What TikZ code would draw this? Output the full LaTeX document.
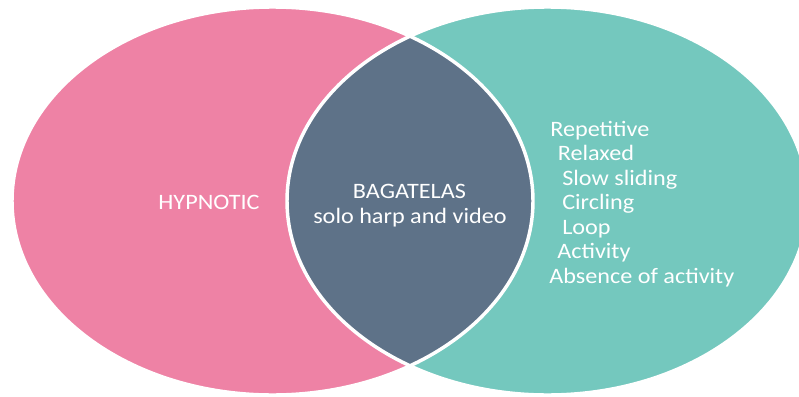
\documentclass[tikz,border=0pt]{standalone}
\usepackage{fontspec}
\setmainfont[FakeStretch=1.1]{Carlito}
\definecolor{vpink}{RGB}{238,130,165}
\definecolor{vteal}{RGB}{116,200,190}
\definecolor{vslate}{RGB}{94,114,136}
\begin{document}
\begin{tikzpicture}[x=0.75pt,y=-0.75pt,
  lbl/.style={text=white,inner sep=0pt,font=\fontsize{16.5pt}{18pt}\selectfont},
  lw/.style={lbl,anchor=base west},
  lc/.style={lbl,anchor=base}]
\useasboundingbox (0,0) rectangle (799,396);
\fill[vpink] (272.5,201) ellipse [x radius=260.5, y radius=194];
\fill[vteal] (547.5,201) ellipse [x radius=260.5, y radius=194];
\begin{scope}
  \clip (272.5,201) ellipse [x radius=260.5, y radius=194];
  \fill[vslate] (547.5,201) ellipse [x radius=260.5, y radius=194];
\end{scope}
\draw[white,line width=2.6pt] (272.5,201) ellipse [x radius=260.5, y radius=194];
\draw[white,line width=2.6pt] (547.5,201) ellipse [x radius=260.5, y radius=194];
\node[lc] (hyp) at (209,209) {HYPNOTIC};
\node[lc] (bag) at (409.5,198) {BAGATELAS};
\node[lc] (solo) at (410,223) {solo harp and video};
\node[lw] (r1) at (550,136) {Repetitive};
\node[lw] (r2) at (557.5,160.5) {Relaxed};
\node[lw] (r3) at (562,185) {Slow sliding};
\node[lw] (r4) at (562,209.5) {Circling};
\node[lw] (r5) at (562,234) {Loop};
\node[lw] (r6) at (557,258.5) {Activity};
\node[lw] (r7) at (549,283) {Absence of activity};
\end{tikzpicture}
\end{document}
